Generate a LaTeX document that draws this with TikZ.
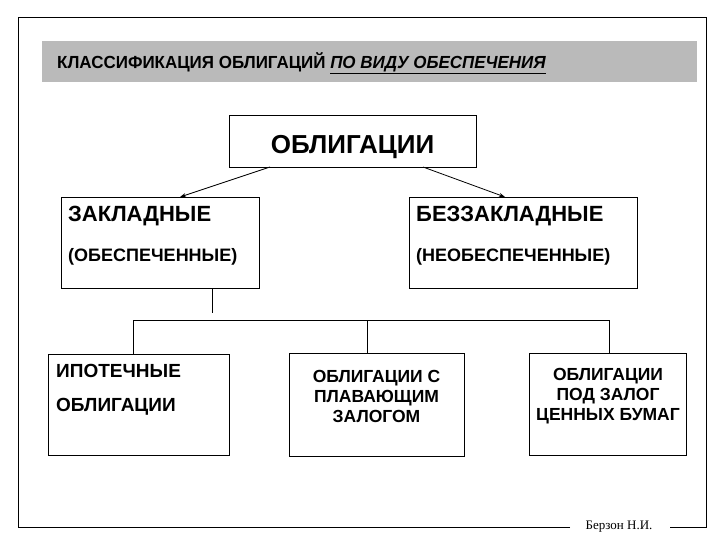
\documentclass[tikz,border=0pt]{standalone}
\usepackage{fontspec}
\usetikzlibrary{arrows.meta}
\setmainfont{Liberation Sans}
\newfontfamily\serifx{Liberation Serif}
\begin{document}
\begin{tikzpicture}[x=1pt,y=-1pt,
  box/.style={draw,line width=0.8pt},
  con/.style={line width=0.8pt},
  arr/.style={line width=0.8pt,-{Stealth[length=6pt,width=4pt]}},
  lbl/.style={anchor=west,inner sep=0pt}]
\useasboundingbox (0,0) rectangle (720,540);
\fill[white] (0,0) rectangle (720,540);
% frame
\draw[line width=0.8pt] (570,527) -- (18,527) -- (18,17) -- (706,17) -- (706,527) -- (670,527);
\node[inner sep=0pt,font=\serifx\fontsize{13}{15}\selectfont] (auth) at (619,527) {Берзон Н.И.};
% title band
\fill[black!27] (42,41) rectangle (697,82);
\node[lbl,font=\bfseries\fontsize{17.5}{19}\selectfont,xscale=0.97] (title) at (57,63) {КЛАССИФИКАЦИЯ ОБЛИГАЦИЙ \textit{\underline{ПО ВИДУ ОБЕСПЕЧЕНИЯ}}};
% boxes
\draw[box] (229,115) rectangle (476,167);
\node[font=\bfseries\fontsize{26}{28}\selectfont] (obl) at (352.5,147) {ОБЛИГАЦИИ};
\draw[box] (61,197) rectangle (259,288);
\node[lbl,font=\bfseries\fontsize{22}{24}\selectfont] (zak) at (68,216) {ЗАКЛАДНЫЕ};
\node[lbl,font=\bfseries\fontsize{18}{20}\selectfont] (zak2) at (68,257) {(ОБЕСПЕЧЕННЫЕ)};
\draw[box] (409,197) rectangle (637,288);
\node[lbl,font=\bfseries\fontsize{22}{24}\selectfont] (bez) at (416,216) {БЕЗЗАКЛАДНЫЕ};
\node[lbl,font=\bfseries\fontsize{18}{20}\selectfont] (bez2) at (416,257) {(НЕОБЕСПЕЧЕННЫЕ)};
\draw[box] (48,354) rectangle (229,455);
\node[lbl,font=\bfseries\fontsize{19}{21}\selectfont] (ip) at (56,371) {ИПОТЕЧНЫЕ};
\node[lbl,font=\bfseries\fontsize{19}{21}\selectfont] (ip2) at (56,407) {ОБЛИГАЦИИ};
\draw[box] (289,353) rectangle (464,456);
\node[align=center,font=\bfseries\fontsize{17.5}{20}\selectfont] (pl) at (376.5,396) {ОБЛИГАЦИИ С\\ПЛАВАЮЩИМ\\ЗАЛОГОМ};
\draw[box] (529,353) rectangle (686,455);
\node[align=center,font=\bfseries\fontsize{17.5}{20}\selectfont] (cb) at (608,396) {ОБЛИГАЦИИ\\ПОД ЗАЛОГ\\ЦЕННЫХ БУМАГ};
% connectors
\coordinate (a1) at (270,167); \coordinate (a2) at (180,197);
\coordinate (b1) at (423,167); \coordinate (b2) at (505,197);
\draw[arr] (a1) -- (a2);
\draw[arr] (b1) -- (b2);
\coordinate (v1) at (212,288); \coordinate (v2) at (212,313);
\draw[con] (v1) -- (v2);
\coordinate (h1) at (133,320); \coordinate (h2) at (367,320); \coordinate (h3) at (609,320);
\draw[con] (133,354) -- (h1) -- (h3) -- (609,353);
\draw[con] (h2) -- (367,353);
\end{tikzpicture}
\end{document}
